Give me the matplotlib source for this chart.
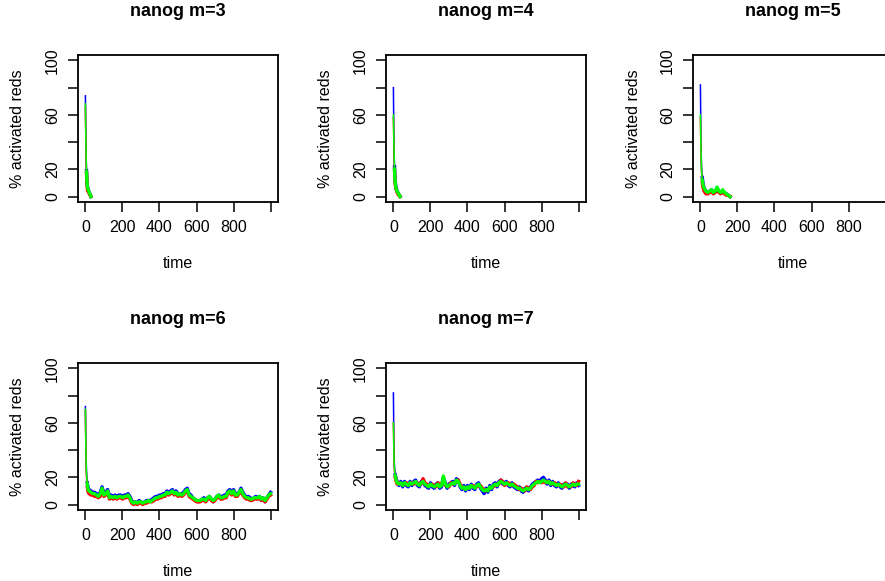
import matplotlib
matplotlib.use("Agg")
import matplotlib.pyplot as plt

plt.rcParams['font.family'] = ['Liberation Sans', 'DejaVu Sans']

titles = ["nanog m=3", "nanog m=4", "nanog m=5", "nanog m=6", "nanog m=7"]
xticks = [0, 200, 400, 600, 800, 1000]
xticklabels = ["0", "200", "400", "600", "800", ""]
yticks = [0, 20, 40, 60, 80, 100]
yticklabels = ["0", "20", "", "60", "", "100"]

t3 = [0, 2, 4, 6, 8, 10, 12, 15, 18, 21, 24, 27, 30]
blue3 = [74, 48, 30, 19, 12, 9, 7, 5, 4, 3, 2, 1, 0]
red3 = [66, 44, 27, 17, 11, 6, 4, 5, 3, 2, 1, 1, 0]
green3 = [68, 45, 28, 18, 12, 8, 6, 5, 4, 3, 2, 1, 0]

t4 = [0, 2, 4, 6, 8, 10, 13, 16, 20, 24, 28, 32, 36]
blue4 = [80, 50, 32, 22, 15, 11, 8, 6, 4, 3, 2, 1, 0]
red4 = [58, 42, 28, 19, 13, 9, 6, 5, 3, 2, 1, 1, 0]
green4 = [60, 44, 30, 20, 14, 10, 7, 5, 4, 3, 2, 1, 0]

t5 = [0, 3, 6, 10, 15, 20, 25, 30, 40, 50, 60, 70, 80, 90, 100, 110, 120, 130, 140, 150, 160]
blue5 = [82, 40, 22, 14, 9, 6, 5, 4, 3, 4, 5, 3, 4, 6, 4, 3, 4, 3, 2, 1, 0]
red5 = [58, 33, 18, 10, 6, 4, 3, 2, 2, 3, 4, 2, 3, 5, 3, 2, 4, 2, 1, 1, 0]
green5 = [60, 35, 20, 12, 8, 6, 5, 4, 3, 4, 5, 3, 4, 7, 4, 3, 5, 3, 2, 1, 0]

tlong = [0, 3, 6, 10, 15] + list(range(20, 1001, 10))

blue6 = [72, 38, 24, 16, 12,
         11, 10, 9, 9, 8, 7, 9, 13, 8, 9,
         11, 6, 7, 6, 7, 6, 7, 7, 6, 7,
         7, 8, 6, 3, 1, 2, 1, 3, 2, 1,
         2, 3, 3, 3, 4, 5, 6, 6, 7, 7,
         8, 8, 10, 9, 10, 11, 9, 10, 8, 8,
         8, 9, 11, 12, 8, 7, 5, 4, 3, 2,
         3, 4, 5, 3, 5, 6, 4, 2, 4, 6,
         7, 6, 6, 7, 7, 10, 11, 9, 11, 8,
         8, 9, 12, 9, 7, 5, 6, 5, 4, 5,
         6, 5, 6, 3, 5, 2, 5, 7, 9]
red6 = [69, 33, 20, 13, 9,
        8, 7, 7, 6, 6, 5, 6, 11, 6, 7,
        9, 4, 5, 4, 5, 4, 5, 5, 4, 5,
        5, 6, 4, 1, 0, 1, 0, 1, 1, 0,
        1, 1, 2, 2, 2, 3, 4, 4, 5, 5,
        6, 6, 8, 7, 8, 9, 7, 8, 6, 7,
        6, 7, 9, 10, 6, 5, 4, 3, 2, 2,
        2, 3, 3, 2, 4, 5, 3, 2, 3, 5,
        6, 4, 4, 5, 5, 8, 9, 7, 9, 6,
        6, 8, 10, 7, 5, 4, 4, 3, 3, 4,
        4, 4, 5, 3, 4, 2, 4, 6, 7]
green6 = [70, 35, 22, 15, 11,
          10, 9, 8, 8, 7, 6, 8, 12, 7, 8,
          10, 5, 6, 5, 6, 5, 6, 6, 5, 6,
          6, 7, 5, 2, 1, 2, 1, 2, 2, 1,
          2, 2, 3, 2, 3, 4, 5, 5, 6, 6,
          7, 7, 9, 8, 9, 10, 8, 9, 7, 8,
          7, 8, 10, 11, 7, 6, 5, 4, 3, 3,
          3, 4, 4, 3, 5, 6, 4, 3, 4, 6,
          7, 5, 5, 6, 6, 9, 10, 8, 10, 7,
          7, 9, 11, 8, 6, 5, 5, 4, 4, 5,
          5, 5, 6, 4, 5, 3, 5, 7, 8]

blue7 = [82, 40, 27, 22, 19,
         17, 14, 17, 13, 17, 14, 13, 17, 14, 17,
         18, 14, 13, 17, 18, 14, 13, 12, 16, 13,
         12, 15, 16, 12, 13, 20, 16, 12, 15, 16,
         17, 14, 19, 18, 13, 11, 14, 10, 14, 11,
         15, 12, 11, 15, 16, 12, 10, 8, 12, 9,
         14, 11, 15, 16, 13, 17, 18, 15, 16, 17,
         14, 13, 16, 13, 12, 11, 13, 10, 9, 12,
         11, 10, 13, 15, 16, 17, 18, 17, 19, 20,
         18, 15, 18, 14, 17, 14, 13, 16, 13, 12,
         15, 14, 15, 12, 15, 14, 13, 16, 14]
red7 = [60, 34, 24, 20, 17,
        15, 16, 15, 15, 15, 16, 15, 15, 16, 15,
        16, 16, 15, 15, 19, 16, 15, 14, 14, 15,
        14, 13, 16, 14, 15, 19, 14, 14, 13, 16,
        15, 16, 17, 18, 15, 13, 12, 12, 12, 13,
        13, 14, 13, 13, 14, 14, 12, 11, 10, 11,
        12, 13, 13, 14, 15, 15, 18, 17, 14, 15,
        16, 15, 14, 15, 14, 13, 11, 12, 11, 10,
        13, 12, 11, 13, 14, 17, 16, 17, 16, 17,
        16, 17, 16, 16, 15, 16, 15, 14, 15, 14,
        13, 16, 13, 14, 13, 16, 15, 14, 17]
green7 = [60, 35, 25, 21, 18,
          16, 15, 16, 14, 16, 15, 14, 16, 15, 16,
          17, 15, 14, 16, 17, 15, 14, 13, 15, 14,
          13, 14, 15, 13, 14, 21, 15, 13, 14, 15,
          16, 15, 18, 17, 14, 12, 13, 11, 13, 12,
          14, 13, 12, 14, 15, 13, 11, 10, 11, 10,
          13, 12, 14, 15, 14, 16, 17, 16, 15, 16,
          15, 14, 15, 14, 13, 12, 12, 11, 10, 11,
          12, 11, 12, 14, 15, 16, 17, 16, 17, 18,
          17, 16, 17, 15, 16, 15, 14, 15, 14, 13,
          14, 15, 14, 13, 14, 15, 14, 15, 15]

series = [(t3, blue3, red3, green3), (t4, blue4, red4, green4), (t5, blue5, red5, green5),
          (tlong, blue6, red6, green6), (tlong, blue7, red7, green7)]
colors = ['#0000FF', '#FF0000', '#00FF00']

# box positions in pixels: left, top
boxes = [(78, 55), (386, 55), (693, 55), (78, 363), (386, 363)]
W, H = 885, 581
bw, bh = 200, 147

fig = plt.figure(figsize=(W / 100, H / 100), dpi=100)

for i in range(5):
	left, top = boxes[i]
	ax = fig.add_axes([left / W, 1 - (top + bh) / H, bw / W, bh / H])
	t = series[i][0]
	# steep start drawn thin, noisy rest drawn thicker
	k = 3
	for j in range(3):
		y = series[i][j + 1]
		ax.plot(t[:k + 1], y[:k + 1], color=colors[j], lw=1.1)
		ax.plot(t[k:], y[k:], color=colors[j], lw=2.4, solid_joinstyle='round')
	ax.set_xlim(-40, 1040)
	ax.set_ylim(-4, 104)
	ax.set_xticks(xticks)
	ax.set_xticklabels(xticklabels, fontsize=11.5)
	ax.set_yticks(yticks)
	ax.set_yticklabels(yticklabels, fontsize=11.5, rotation=90, va='center')
	ax.tick_params(length=7, width=1.1, color='black', pad=6)
	for s in ax.spines.values():
		s.set_linewidth(1.3)
	ax.set_title(titles[i], fontsize=13, fontweight='bold', y=1 + 35 / bh, va='center')
	ax.set_xlabel("time", fontsize=11.5, va='center')
	ax.xaxis.set_label_coords(0.5, -61 / bh)
	ax.set_ylabel("% activated reds", fontsize=11.5, va='center')
	ax.yaxis.set_label_coords(-60 / bw, 0.5)

plt.savefig("out.png", dpi=100)
